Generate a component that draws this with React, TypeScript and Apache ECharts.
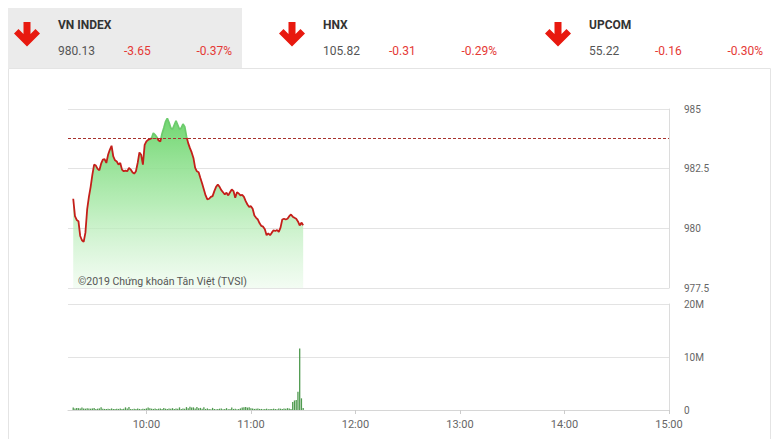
import React, { useEffect, useRef } from "react";
import * as echarts from "echarts";

// ---- header data ----
const indexNames = ["VN INDEX", "HNX", "UPCOM"];
const indexValues = ["980.13", "105.82", "55.22"];
const indexChanges = ["-3.65", "-0.31", "-0.16"];
const indexPercents = ["-0.37%", "-0.29%", "-0.30%"];

// ---- axis ----
const axisStart = "09:15";
const axisEnd = "15:00";
const priceTicks = [977.5, 980, 982.5, 985];
const volumeTicks = [0, 10, 20]; // millions
const referencePrice = 983.78;

// ---- price series: one value per minute from 09:18 to 11:30 ----
const priceStart = "09:18";
const priceValues = [
  981.24, 980.51, 980.35, 980.3, 979.68, 979.5, 979.43, 979.82, 980.79, 981.32,
  981.74, 982.25, 982.67, 982.63, 982.49, 982.43, 982.71, 982.88, 982.9, 982.74,
  983.08, 983.29, 983.46, 983.01, 982.85, 982.8, 982.67, 982.74, 982.46, 982.39,
  982.42, 982.39, 982.53, 982.46, 982.35, 982.29, 982.39, 982.74, 983.18, 983.08,
  982.67, 983.5, 983.64, 983.71, 983.74, 983.78, 983.99, 983.92, 983.82, 983.68,
  983.64, 983.96, 984.2, 984.47, 984.61, 984.43, 984.2, 984.15, 984.33, 984.5,
  984.33, 984.15, 984.2, 984.37, 984.26, 983.85, 983.57, 983.36, 983.18, 982.95,
  982.53, 982.39, 982.35, 982.11, 981.88, 981.63, 981.38, 981.21, 981.24, 981.32,
  981.35, 981.56, 981.74, 981.83, 981.74, 981.6, 981.51, 981.42, 981.49, 981.38,
  981.51, 981.63, 981.56, 981.28, 981.51, 981.46, 981.38, 981.4, 981.32, 981.14,
  981.0, 980.9, 980.93, 980.82, 980.54, 980.44, 980.37, 980.21, 980.1, 980.07,
  979.96, 979.71, 979.79, 979.71, 979.82, 979.92, 979.89, 979.93, 979.85, 980.03,
  980.37, 980.4, 980.37, 980.4, 980.51, 980.58, 980.49, 980.44, 980.4, 980.29,
  980.12, 980.24, 980.13,
];

// ---- volume series (millions of shares), one per minute from 09:18 ----
const volumeValues = [
  0.45, 0.3, 0.4, 0.35, 0.3, 0.45, 0.3, 0.25, 0.35, 0.3,
  0.25, 0.3, 0.4, 0.2, 0.25, 0.3, 0.5, 0.25, 0.2, 0.2,
  0.25, 0.2, 0.3, 0.2, 0.2, 0.25, 0.2, 0.3, 0.2, 0.25,
  0.5, 0.3, 0.55, 0.2, 0.15, 0.25, 0.2, 0.3, 0.2, 0.15,
  0.25, 0.2, 0.3, 0.45, 0.35, 0.25, 0.2, 0.3, 0.2, 0.25,
  0.3, 0.2, 0.4, 0.25, 0.2, 0.3, 0.25, 0.35, 0.2, 0.3,
  0.25, 0.5, 0.2, 0.3, 0.25, 0.55, 0.35, 0.6, 0.45, 0.5,
  0.3, 0.55, 0.35, 0.4, 0.25, 0.5, 0.2, 0.3, 0.2, 0.15,
  0.4, 0.2, 0.15, 0.2, 0.25, 0.3, 0.15, 0.2, 0.35, 0.15,
  0.2, 0.45, 0.2, 0.25, 0.15, 0.2, 0.3, 0.45, 0.5, 0.55,
  0.45, 0.5, 0.35, 0.3, 0.2, 0.25, 0.3, 0.2, 0.2, 0.15,
  0.2, 0.25, 0.15, 0.2, 0.2, 0.25, 0.2, 0.15, 0.3, 0.25,
  0.2, 0.3, 0.25, 0.35, 0.3, 0.2, 1.5, 1.8, 1.9, 3.45,
  11.6, 2.2, 0.4,
];

const watermark = "©2019 Chứng khoán Tân Việt (TVSI)";

function toMin(t: string) {
  const [h, m] = t.split(":").map(Number);
  return h * 60 + m;
}
function toLabel(min: number) {
  const h = Math.floor(min / 60);
  const m = min % 60;
  return (h < 10 ? "0" : "") + h + ":" + (m < 10 ? "0" : "") + m;
}

const FONT = "Roboto, 'Liberation Sans', sans-serif";
const GRID_TOP = 109;
const GRID_H = 179;

export default function App() {
  const ref = useRef<HTMLDivElement>(null);
  useEffect(() => {
    if (!ref.current) return;
    const chart = echarts.init(ref.current, undefined, { renderer: "svg" });

    const categories: string[] = [];
    for (let m = toMin(axisStart); m <= toMin(axisEnd); m++) categories.push(toLabel(m));
    const p0 = toMin(priceStart);
    const priceData = priceValues.map((v, i) => [toLabel(p0 + i), v]);
    const volData = volumeValues.map((v, i) => [toLabel(p0 + i), v]);

    const isHour = (_: number, v: string) => v.endsWith(":00");

    const pMin = priceTicks[0];
    const pMax = priceTicks[priceTicks.length - 1];
    const refOffset = (pMax - referencePrice) / (pMax - pMin);

    const arrowPts = [
      [9.5, 0], [16.5, 0], [16.5, 12], [21.5, 7], [26, 11.5], [13, 24.5], [0, 11.5], [4.5, 7], [9.5, 12],
    ];
    const headerX = [14, 279, 545];
    const header: any[] = [
      { type: "rect", shape: { x: 8, y: 8, width: 234, height: 60 }, style: { fill: "#ebebeb" } },
      {
        type: "rect",
        shape: { x: 8.5, y: 68.5, width: 762, height: 400 },
        style: { fill: "none", stroke: "#e4e4e4", lineWidth: 1 },
      },
    ];
    headerX.forEach((hx, i) => {
      header.push({
        type: "polygon",
        x: hx,
        y: 22,
        shape: { points: arrowPts },
        style: { fill: "#e8190f" },
      });
      const tx = hx + 44;
      header.push({
        type: "text",
        style: { text: indexNames[i], x: tx, y: 25, font: `bold 12px ${FONT}`, fill: "#333", verticalAlign: "middle" },
      });
      header.push({
        type: "text",
        style: { text: indexValues[i], x: tx, y: 51, font: `12px ${FONT}`, fill: "#555", verticalAlign: "middle" },
      });
      header.push({
        type: "text",
        style: { text: indexChanges[i], x: tx + 66, y: 51, font: `12px ${FONT}`, fill: "#e53935", verticalAlign: "middle" },
      });
      header.push({
        type: "text",
        style: {
          text: indexPercents[i], x: hx + 218, y: 51, font: `12px ${FONT}`, fill: "#e53935",
          verticalAlign: "middle", align: "right",
        },
      });
    });
    header.push({
      type: "text",
      z: 10,
      style: { text: watermark, x: 78, y: 281, font: `10.5px ${FONT}`, fill: "#555", verticalAlign: "middle" },
    });

    chart.setOption({
      animation: false,
      textStyle: { fontFamily: FONT },
      grid: [
        { left: 68, right: 111, top: GRID_TOP, height: GRID_H },
        { left: 68, right: 111, top: 304, height: 106 },
      ],
      xAxis: [
        {
          type: "category",
          gridIndex: 0,
          data: categories,
          boundaryGap: false,
          axisLine: { show: false },
          axisTick: { show: false },
          axisLabel: { show: false },
          splitLine: { show: false },
        },
        {
          type: "category",
          gridIndex: 1,
          data: categories,
          boundaryGap: false,
          axisLine: { show: true, lineStyle: { color: "#d6d6d6" } },
          axisTick: { show: true, interval: isHour, length: 4, lineStyle: { color: "#ccc" } },
          axisLabel: { interval: isHour, color: "#666", fontSize: 11, margin: 9 },
          splitLine: { show: false },
        },
      ],
      yAxis: [
        {
          type: "value",
          gridIndex: 0,
          position: "right",
          min: pMin,
          max: pMax,
          interval: priceTicks[1] - priceTicks[0],
          axisLine: { show: true, lineStyle: { color: "#dcdcdc" } },
          axisTick: { show: false },
          axisLabel: { color: "#666", fontSize: 10, margin: 15 },
          splitLine: { lineStyle: { color: "#e3e3e3" } },
        },
        {
          type: "value",
          gridIndex: 1,
          position: "right",
          min: volumeTicks[0],
          max: volumeTicks[volumeTicks.length - 1],
          interval: volumeTicks[1] - volumeTicks[0],
          axisLine: { show: true, lineStyle: { color: "#dcdcdc" } },
          axisTick: { show: false },
          axisLabel: { color: "#666", fontSize: 10, margin: 15, formatter: (v: number) => (v === 0 ? "0" : v + "M") },
          splitLine: { lineStyle: { color: "#e3e3e3" } },
        },
      ],
      series: [
        {
          type: "line",
          xAxisIndex: 0,
          yAxisIndex: 0,
          data: priceData,
          showSymbol: false,
          symbol: "none",
          lineStyle: {
            width: 1.8,
            color: {
              type: "linear",
              global: true,
              x: 0, y: GRID_TOP, x2: 0, y2: GRID_TOP + GRID_H,
              colorStops: [
                { offset: 0, color: "#6ccb6c" },
                { offset: refOffset, color: "#6ccb6c" },
                { offset: refOffset, color: "#c41f1a" },
                { offset: 1, color: "#c41f1a" },
              ],
            },
          },
          areaStyle: {
            color: {
              type: "linear",
              x: 0, y: 0, x2: 0, y2: 1,
              colorStops: [
                { offset: 0, color: "rgba(105,212,105,0.95)" },
                { offset: 0.5, color: "rgba(165,232,165,0.8)" },
                { offset: 1, color: "rgba(235,250,235,0.6)" },
              ],
            },
            opacity: 1,
          },
          markLine: {
            silent: true,
            symbol: ["none", "none"],
            label: { show: false },
            lineStyle: { color: "#a8322e", type: [3, 2], width: 1 },
            data: [{ yAxis: referencePrice }],
          },
        },
        {
          type: "bar",
          xAxisIndex: 1,
          yAxisIndex: 1,
          data: volData,
          barWidth: 1.3,
          itemStyle: { color: "#4f9a4f" },
        },
      ],
      graphic: header,
    });
    return () => chart.dispose();
  }, []);
  return (
    <div
      ref={ref}
      style={{ position: "absolute", left: 0, top: 0, width: 780, height: 439, background: "#fff" }}
    />
  );
}
